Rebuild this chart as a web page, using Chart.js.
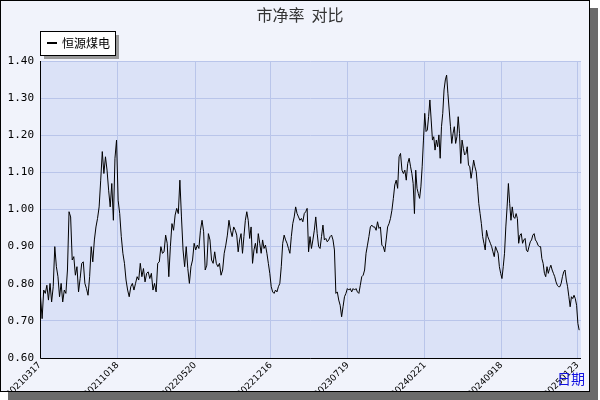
<!DOCTYPE html>
<html><head><meta charset="utf-8">
<script src="https://cdn.jsdelivr.net/npm/chart.js@4/dist/chart.umd.min.js"></script>
<style>
body{margin:0;background:#fff;}
#box{position:absolute;left:0;top:0;width:588px;height:390px;border:1px solid #000;background:#f1f3fb;box-shadow:8px 8px 0 #6b6b6b;}
canvas{display:block;}
</style></head><body>
<div id="box"><canvas id="c" width="588" height="390"></canvas></div>
<script>
const seriesName = '恒源煤电';
const chartTitle = '市净率  对比';
const axisLabelX = '日期';
const tickLabels = ['20210317','20211018','20220520','20221216','20230719','20240221','20240918','20250123'];
const tickFractions = [0, 0.1434, 0.2868, 0.4267, 0.569, 0.7113, 0.853, 0.994];
// three consecutive stretches of the series, and the share of the time axis each covers
const segSpans = [[0.001, 0.361], [0.361, 0.685], [0.685, 0.999]];
const values2021_2022 = [
0.765,0.706,0.783,0.774,0.796,0.756,0.801,0.751,0.792,0.900,0.846,0.819,0.765,0.801,0.751,0.783,0.774,0.837,0.994,0.980,
0.864,0.873,0.823,0.846,0.778,0.814,0.855,0.859,0.801,0.787,0.769,0.819,0.900,0.859,0.918,0.953,0.976,1.007,1.079,1.156,
1.097,1.142,1.106,1.052,1.007,1.070,0.971,1.138,1.187,1.025,0.989,0.927,0.882,0.855,0.810,0.783,0.765,0.792,0.801,0.783,
0.801,0.819,0.810,0.855,0.819,0.841,0.805,0.828,0.832,0.814,0.828,0.783,0.801,0.778,0.855,0.859,0.900,0.882,0.886,0.931,
0.909,0.819,0.900,0.962,0.944,0.985,1.003,0.989,1.079,0.980,0.891,0.846,0.900,0.841,0.801,0.846,0.864,0.909,0.891,0.904,
0.895,0.944,0.971,0.940,0.837,0.850,0.935,0.918,0.864,0.855,0.886,0.855,0.846,0.855,0.823,0.837,0.882,0.904,0.931,0.971,
0.944,0.927,0.953];
const values2022_2023 = [
0.944,0.931,0.886,0.918,0.935,0.882,0.927,0.971,0.994,0.971,0.922,0.953,0.855,0.891,0.909,0.882,0.935,0.909,0.882,0.918,
0.895,0.904,0.882,0.855,0.828,0.792,0.778,0.774,0.783,0.778,0.792,0.801,0.846,0.909,0.931,0.918,0.909,0.895,0.882,0.927,
0.962,0.980,1.007,0.989,0.980,0.971,0.976,0.967,0.989,0.994,1.003,0.886,0.927,0.895,0.918,0.944,0.980,0.935,0.900,0.895,
0.927,0.958,0.918,0.922,0.913,0.918,0.927,0.931,0.918,0.891,0.774,0.778,0.756,0.742,0.711,0.738,0.765,0.774,0.787,0.783,
0.787,0.778,0.787,0.783,0.787,0.778,0.774,0.796,0.819,0.823,0.837,0.882,0.904,0.927,0.953,0.958,0.953,0.953,0.944,0.967,
0.949,0.953,0.904,0.900,0.886,0.918,0.953,0.962,0.976,0.998,1.030,1.066,1.079,1.057,1.142,1.151,1.106,1.097,1.106,1.079,
1.124,1.138];
const values2023_2025 = [
1.115,1.097,1.070,0.989,1.106,1.057,1.043,1.030,1.061,1.115,1.187,1.259,1.210,1.214,1.250,1.295,1.241,1.187,1.196,1.160,
1.187,1.169,1.201,1.138,1.223,1.259,1.322,1.349,1.362,1.313,1.268,1.223,1.178,1.205,1.223,1.178,1.196,1.250,1.205,1.124,
1.187,1.165,1.147,1.151,1.169,1.120,1.115,1.084,1.106,1.133,1.115,1.102,1.061,1.016,0.989,0.962,0.927,0.909,0.891,0.944,
0.927,0.918,0.909,0.900,0.886,0.873,0.900,0.891,0.882,0.846,0.828,0.814,0.846,0.882,0.953,1.007,1.070,1.016,0.971,1.007,
0.980,0.976,0.989,0.976,0.909,0.931,0.935,0.909,0.918,0.922,0.891,0.886,0.900,0.913,0.918,0.931,0.935,0.918,0.913,0.904,
0.900,0.900,0.868,0.855,0.828,0.819,0.846,0.828,0.841,0.850,0.837,0.828,0.819,0.805,0.796,0.792,0.792,0.801,0.819,0.832,
0.837,0.810,0.792,0.765,0.738,0.765,0.760,0.769,0.760,0.742,0.693,0.675];
const segments = [values2021_2022, values2022_2023, values2023_2025];
const points = [];
segments.forEach((seg, k) => {
  const [a, b] = segSpans[k];
  seg.forEach((v, i) => points.push({x: a + (b - a) * i / seg.length, y: v}));
});
const decor = {
  id:'decor',
  beforeDraw(ch){
    const {ctx, chartArea:a} = ch;
    ctx.save();
    ctx.fillStyle='#dbe2f7';
    ctx.fillRect(a.left,a.top,a.right-a.left,a.bottom-a.top);
    ctx.restore();
  },
  afterDraw(ch){
    const {ctx, chartArea:a} = ch;
    ctx.save();
    ctx.fillStyle='#333';
    ctx.font='16px "Noto Sans CJK SC"';
    ctx.textAlign='center'; ctx.textBaseline='middle';
    ctx.fillText(chartTitle, 299, 14);
    ctx.fillStyle='#9a9a9a'; ctx.fillRect(43,34,75,24);
    ctx.fillStyle='#fff'; ctx.fillRect(39,30,75,24);
    ctx.strokeStyle='#000'; ctx.lineWidth=1; ctx.strokeRect(39.5,30.5,75,24);
    ctx.fillStyle='#000'; ctx.fillRect(46,41,10,2);
    ctx.font='12px "Noto Sans CJK SC"'; ctx.textAlign='left';
    ctx.fillText(seriesName, 61, 42);
    ctx.fillStyle='#1010e0'; ctx.font='14px "Noto Sans CJK SC"';
    ctx.fillText(axisLabelX, 556, 378);
    ctx.strokeStyle='#000'; ctx.beginPath();
    ctx.moveTo(a.left+0.5,a.top); ctx.lineTo(a.left+0.5,a.bottom+0.5); ctx.lineTo(a.right,a.bottom+0.5); ctx.stroke();
    ctx.restore();
  }
};
new Chart(document.getElementById('c'), {
  type:'line',
  data:{datasets:[{label:seriesName,data:points,borderColor:'#000',borderWidth:1,pointRadius:0,tension:0}]},
  options:{
    responsive:false, animation:false,
    layout:{padding:{top:60,right:8,left:0,bottom:0}},
    plugins:{legend:{display:false},title:{display:false},tooltip:{enabled:false}},
    scales:{
      x:{type:'linear',min:0,max:1,
        afterBuildTicks(s){ s.ticks = tickFractions.map(f=>({value:f})); },
        afterFit(s){ s.height=33; },
        ticks:{autoSkip:false,maxRotation:45,minRotation:45,color:'#000',font:{family:'DejaVu Sans',size:9},padding:2,
          callback:(v,i)=>tickLabels[i]},
        grid:{color:'#b9c5ea',drawTicks:false},border:{display:false}},
      y:{min:0.6,max:1.4,
        afterFit(s){ s.width=39; },
        ticks:{stepSize:0.1,color:'#000',font:{family:'DejaVu Sans Mono',size:11},padding:6,callback:v=>v.toFixed(2)},
        grid:{color:'#b9c5ea',drawTicks:false},border:{display:false}}
    }
  },
  plugins:[decor]
});
</script></body></html>
